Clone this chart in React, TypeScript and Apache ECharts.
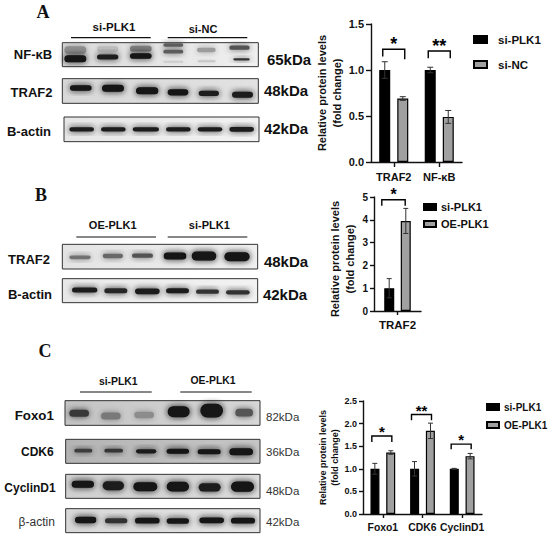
import React, { useEffect, useRef } from "react";
import * as echarts from "echarts";

// ---- chart data ----
const aCategories = ["TRAF2", "NF-κB"];
const aSiPlk1 = [1.0, 1.0];
const aSiPlk1Err = [0.09, 0.03];
const aSiNc = [0.69, 0.49];
const aSiNcErr = [0.02, 0.07];
const aTicks = { min: 0, max: 1.5, interval: 0.5 };

const bCategories = ["TRAF2"];
const bSiPlk1 = [1.0];
const bSiPlk1Err = [0.42];
const bOePlk1 = [3.95];
const bOePlk1Err = [0.55];
const bTicks = { min: 0, max: 5, interval: 1 };

const cCategories = ["Foxo1", "CDK6", "CyclinD1"];
const cSiPlk1 = [1.0, 1.0, 1.0];
const cSiPlk1Err = [0.12, 0.16, 0.01];
const cOePlk1 = [1.36, 1.84, 1.28];
const cOePlk1Err = [0.04, 0.17, 0.06];
const cTicks = { min: 0, max: 2.5, interval: 0.5 };

// significance brackets: [category, top, left foot, right foot, stars]
const aBrackets = [[0, 1.226, 1.146, 1.117, 1], [1, 1.207, 1.127, 1.127, 2]];
const bBrackets = [[0, 4.88, 4.62, 4.62, 1]];
const cBrackets = [[0, 1.727, 1.595, 1.595, 1], [1, 2.2, 2.074, 2.074, 2], [2, 1.545, 1.43, 1.43, 1]];

const yName = "Relative protein levels\n(fold change)";
const FONT = '"Liberation Sans", Arial, sans-serif';
const SERIF = '"Liberation Serif", "Times New Roman", serif';
const INK = "#111";
const GREY = "#a0a0a0";

// ---- western blot pictures (drawn, zoomed-crop units /3) ----
type Band = [number, number, number, number, number];
type Panel = { x1: number; x2: number; y1: number; y2: number; oy: number; base: number; bg: [string, string]; bands: Band[] };

const panels: Panel[] = [
  { x1: 187, x2: 775, y1: 128, y2: 200, oy: 0, base: 230, bg: ["#dcdcdc", "#f0f0f0"], bands: [
    [190, 262, 150, 26, 0.42], [288, 358, 147, 20, 0.2], [387, 458, 146, 20, 0.5], [487, 553, 135, 14, 0.65],
    [487, 553, 155, 14, 0.65], [487, 553, 185, 8, 0.12], [588, 650, 150, 16, 0.35], [590, 650, 184, 8, 0.15],
    [685, 752, 143, 16, 0.7], [697, 752, 178, 10, 0.85], [190, 262, 176, 24, 1], [288, 358, 171, 18, 0.95],
    [387, 458, 168, 20, 1] ] },
  { x1: 187, x2: 775, y1: 236, y2: 310, oy: 0, base: 220, bg: ["#d8d8d8", "#e2e2e2"], bands: [
    [207, 278, 264, 19, 1], [303, 375, 265, 24, 1], [405, 478, 272, 24, 1],
    [500, 568, 277, 22, 1], [593, 660, 280, 19, 0.95], [693, 762, 284, 21, 0.95] ] },
  { x1: 192, x2: 777, y1: 351, y2: 425, oy: 0, base: 235, bg: ["#e6e6e6", "#f2f2f2"], bands: [
    [205, 285, 388, 16, 0.95], [300, 380, 388, 16, 0.95], [395, 480, 388, 16, 0.95],
    [495, 575, 388, 16, 0.95], [590, 670, 388, 16, 0.95], [685, 765, 388, 17, 0.95] ] },
  { x1: 187, x2: 773, y1: 223, y2: 297, oy: 170, base: 232, bg: ["#e4e4e4", "#efefef"], bands: [
    [205, 275, 262, 14, 0.55], [305, 372, 258, 16, 0.6], [393, 462, 257, 16, 0.7],
    [488, 562, 258, 24, 1], [572, 652, 258, 30, 1], [670, 752, 260, 30, 1] ] },
  { x1: 187, x2: 773, y1: 326, y2: 398, oy: 170, base: 236, bg: ["#e8e8e8", "#f2f2f2"], bands: [
    [213, 295, 360, 18, 0.95], [310, 385, 362, 18, 0.9], [402, 482, 364, 20, 0.95],
    [495, 570, 362, 18, 0.95], [585, 660, 365, 16, 0.85], [675, 752, 367, 16, 0.85] ] },
  { x1: 195, x2: 780, y1: 182, y2: 256, oy: 340, base: 206, bg: ["#c4c4c4", "#d8d8d8"], bands: [
    [205, 270, 220, 24, 0.8], [300, 365, 228, 24, 0.45], [400, 465, 225, 22, 0.35],
    [500, 572, 215, 36, 1], [598, 672, 212, 44, 1], [703, 762, 218, 26, 0.65] ] },
  { x1: 197, x2: 780, y1: 298, y2: 370, oy: 340, base: 190, bg: ["#b4b4b4", "#c6c6c6"], bands: [
    [220, 280, 332, 14, 0.75], [310, 372, 332, 14, 0.8], [405, 472, 334, 16, 0.95],
    [497, 570, 334, 18, 1], [590, 665, 335, 18, 1], [685, 762, 335, 24, 1] ] },
  { x1: 197, x2: 780, y1: 403, y2: 475, oy: 340, base: 214, bg: ["#d0d0d0", "#dcdcdc"], bands: [
    [212, 285, 433, 24, 1], [305, 375, 437, 30, 0.95], [397, 475, 440, 30, 1],
    [497, 570, 440, 32, 1], [593, 665, 442, 28, 0.95], [690, 765, 440, 34, 1] ] },
  { x1: 197, x2: 780, y1: 506, y2: 578, oy: 340, base: 222, bg: ["#d8d8d8", "#e4e4e4"], bands: [
    [222, 292, 540, 22, 1], [312, 385, 542, 18, 0.85], [402, 482, 542, 20, 0.98],
    [497, 570, 543, 20, 0.98], [595, 675, 541, 20, 1], [690, 768, 542, 20, 1] ] },
];

const texts: [string, number, number, string][] = [
  ["A", 43, 12, `bold 18px ${SERIF}`], ["B", 41, 195, `bold 18px ${SERIF}`], ["C", 45, 351, `bold 18px ${SERIF}`],
  ["si-PLK1", 114, 27, `bold 11.5px ${FONT}`], ["si-NC", 203, 29, `bold 11px ${FONT}`],
  ["NF-κB", 33, 54, `bold 13px ${FONT}`], ["TRAF2", 31.5, 92, `bold 13px ${FONT}`], ["B-actin", 29, 131, `bold 13px ${FONT}`],
  ["65kDa", 289, 59, `bold 15px ${FONT}`], ["48kDa", 286, 90, `bold 15px ${FONT}`], ["42kDa", 286, 128.5, `bold 15px ${FONT}`],
  ["OE-PLK1", 112.7, 224.5, `bold 11px ${FONT}`], ["si-PLK1", 209.3, 224.5, `bold 11px ${FONT}`],
  ["TRAF2", 29, 259, `bold 13px ${FONT}`], ["B-actin", 30, 294, `bold 13px ${FONT}`],
  ["48kDa", 286, 261.7, `bold 15px ${FONT}`], ["42kDa", 285, 294, `bold 15px ${FONT}`],
  ["si-PLK1", 118.3, 381.7, `bold 10.4px ${FONT}`], ["OE-PLK1", 213, 380, `bold 10.4px ${FONT}`],
  ["Foxo1", 34.3, 415.3, `bold 13.3px ${FONT}`], ["CDK6", 37.3, 451.7, `bold 12px ${FONT}`],
  ["CyclinD1", 30, 487.7, `bold 12px ${FONT}`],
];
const softTexts: [string, number, number, string][] = [
  ["β-actin", 36.7, 522.3, `12px ${FONT}`], ["82kDa", 282.7, 417.3, `11.5px ${FONT}`], ["36kDa", 282.7, 451.7, `11.5px ${FONT}`],
  ["48kDa", 282.7, 491, `11.5px ${FONT}`], ["42kDa", 282.7, 521.7, `11.5px ${FONT}`],
];
const groupLines: [number, number, number][] = [
  [71, 150.7, 37.7], [167.7, 247.3, 37.7], [76.3, 156, 237], [167.7, 247.3, 237], [80, 151.7, 392], [180.3, 251.7, 392],
];

function buildGraphic() {
  const els: any[] = [];
  const blur = 6;
  for (const p of panels) {
    els.push({
      type: "rect", silent: true,
      shape: { x: p.x1 / 3, y: p.oy + p.y1 / 3, width: (p.x2 - p.x1) / 3, height: (p.y2 - p.y1) / 3 },
      style: {
        fill: new echarts.graphic.LinearGradient(0, 0, 1, 0, [{ offset: 0, color: p.bg[0] }, { offset: 1, color: p.bg[1] }]),
        stroke: "#333", lineWidth: 1,
      },
    });
    for (const [a, b, zy, th, d] of p.bands) {
      const g = Math.round(p.base + (18 - p.base) * d);
      const color = `rgb(${g},${g},${g})`;
      const h = Math.max(2, th / 3 - 1);
      const w = (b - a) / 3 - 2;
      els.push({
        type: "rect", silent: true,
        shape: { x: a / 3 + 1, y: p.oy + zy / 3 - h / 2, width: w, height: h, r: h / 2 },
        style: { fill: color, shadowBlur: blur, shadowColor: color },
      });
    }
  }
  for (const [x1, x2, y] of groupLines) {
    els.push({ type: "line", silent: true, shape: { x1, y1: y, x2, y2: y }, style: { stroke: "#111", lineWidth: 1.2 } });
  }
  for (const [text, x, y, font] of texts) {
    els.push({ type: "text", silent: true, x, y, style: { text, font, fill: INK, align: "center", verticalAlign: "middle" } });
  }
  for (const [text, x, y, font] of softTexts) {
    els.push({ type: "text", silent: true, x, y, style: { text, font, fill: "#333", align: "center", verticalAlign: "middle" } });
  }
  return els;
}

function errorSeries(idx: number, values: number[], errs: number[], dx: number, cap: number) {
  return {
    type: "custom", xAxisIndex: idx, yAxisIndex: idx, silent: true, z: 5, clip: false,
    encode: { x: 0, y: 1 },
    data: values.map((v, i) => [i, v - errs[i], v + errs[i]]),
    renderItem: (_: any, api: any) => {
      const lo = api.coord([api.value(0), api.value(1)]);
      const hi = api.coord([api.value(0), api.value(2)]);
      const x = lo[0] + dx;
      const style = { stroke: "#333", lineWidth: 1, fill: "none" };
      return {
        type: "group",
        children: [
          { type: "line", shape: { x1: x, y1: lo[1], x2: x, y2: hi[1] }, style },
          { type: "line", shape: { x1: x - cap, y1: hi[1], x2: x + cap, y2: hi[1] }, style },
          { type: "line", shape: { x1: x - cap, y1: lo[1], x2: x + cap, y2: lo[1] }, style },
        ],
      };
    },
  };
}

function bracketSeries(idx: number, rows: number[][], half: number, dx: number, starPx: number) {
  return {
    type: "custom", xAxisIndex: idx, yAxisIndex: idx, silent: true, z: 6, clip: false,
    encode: { x: 0, y: 1 },
    data: rows,
    renderItem: (_: any, api: any) => {
      const top = api.coord([api.value(0), api.value(1)]);
      const lf = api.coord([api.value(0), api.value(2)]);
      const rf = api.coord([api.value(0), api.value(3)]);
      const n = api.value(4);
      const cx = top[0] + dx;
      return {
        type: "group",
        children: [
          {
            type: "polyline",
            shape: { points: [[cx - half, lf[1]], [cx - half, top[1]], [cx + half, top[1]], [cx + half, rf[1]]] },
            style: { stroke: "#000", lineWidth: 1.4, fill: "none" },
          },
          {
            type: "text", x: cx, y: top[1] - starPx * 0.3,
            style: { text: "*".repeat(n), font: `bold ${starPx}px ${FONT}`, fill: "#000", align: "center", verticalAlign: "middle" },
          },
        ],
      };
    },
  };
}

function barSeries(idx: number, name: string, values: number[], color: string, width: number, gap: string) {
  return {
    type: "bar", name, xAxisIndex: idx, yAxisIndex: idx, data: values, barWidth: width, barGap: gap,
    itemStyle: { color, borderColor: "#000", borderWidth: 1.2 },
  };
}

function axes(idx: number, cats: string[], ticks: any, o: { tick: number; fs: number; cat: number; mg: number; digits: number; nfs: number; gap: number; lh: number; pad: number[] }) {
  const line = { show: true, lineStyle: { color: INK, width: 1.4 } };
  return {
    x: {
      type: "category", gridIndex: idx, data: cats, axisLine: line,
      axisTick: { show: true, alignWithLabel: true, length: o.tick, lineStyle: { color: INK, width: 1.4 } },
      axisLabel: { color: INK, fontFamily: FONT, fontWeight: "bold", fontSize: o.cat, margin: o.mg, interval: 0 },
    },
    y: {
      type: "value", gridIndex: idx, min: ticks.min, max: ticks.max, interval: ticks.interval,
      name: yName, nameLocation: "middle", nameRotate: 90, nameGap: o.gap,
      nameTextStyle: { color: INK, fontFamily: FONT, fontWeight: "bold", fontSize: o.nfs, lineHeight: o.lh, padding: o.pad },
      axisLine: line, splitLine: { show: false },
      axisTick: { show: true, length: o.tick, lineStyle: { color: INK, width: 1.4 } },
      axisLabel: {
        color: INK, fontFamily: FONT, fontWeight: "bold", fontSize: o.fs, margin: o.tick + 2,
        formatter: (v: number) => v.toFixed(o.digits),
      },
    },
  };
}

export default function App() {
  const ref = useRef<HTMLDivElement>(null);
  useEffect(() => {
    const chart = echarts.init(ref.current!, undefined, { renderer: "svg" });
    const A = axes(0, aCategories, aTicks, { tick: 5, fs: 11, cat: 11, mg: 9, digits: 1, nfs: 11, gap: 26, lh: 15, pad: [0, 0, 0, 0] });
    const B = axes(1, bCategories, bTicks, { tick: 4, fs: 10, cat: 11.5, mg: 8, digits: 0, nfs: 11, gap: 17, lh: 15, pad: [0, 10, 0, 0] });
    const C = axes(2, cCategories, cTicks, { tick: 4, fs: 9, cat: 10.4, mg: 8, digits: 1, nfs: 9, gap: 22, lh: 12, pad: [0, 0, 0, 0] });
    const legend = (left: number, top: number, names: string[], fs: number, gap: number, w: number, h: number, textPad: number) => ({
      orient: "vertical", left, top, padding: 0, data: names.map((name) => ({ name, icon: "rect" })),
      itemWidth: w, itemHeight: h, itemGap: gap, align: "left",
      selectedMode: false,
      textStyle: { color: INK, fontFamily: FONT, fontWeight: "bold", fontSize: fs, padding: [0, 0, 0, textPad] },
    });
    chart.setOption({
      animation: false,
      backgroundColor: "#fff",
      grid: [
        { left: 371, top: 24, width: 91, height: 138 },
        { left: 374, top: 197, width: 47, height: 114 },
        { left: 363, top: 401, width: 119, height: 113 },
      ],
      xAxis: [A.x, B.x, C.x],
      yAxis: [A.y, B.y, C.y],
      legend: [
        legend(473, 33.5, ["si-PLK1", "si-NC"], 11.5, 13, 13, 7, 6),
        legend(423, 201.5, ["si-PLK1", "OE-PLK1"], 11, 6, 12, 6, 0),
        legend(486, 402, ["si-PLK1", "OE-PLK1"], 10, 8, 12, 6, 0),
      ],
      series: [
        barSeries(0, "si-PLK1", aSiPlk1, "#000", 11, "64%"),
        barSeries(0, "si-NC", aSiNc, GREY, 11, "64%"),
        errorSeries(0, aSiPlk1, aSiPlk1Err, -9, 3),
        errorSeries(0, aSiNc, aSiNcErr, 9, 3),
        bracketSeries(0, aBrackets, 11, 0, 18),
        barSeries(1, "si-PLK1", bSiPlk1, "#000", 10, "65%"),
        barSeries(1, "OE-PLK1", bOePlk1, GREY, 10, "65%"),
        errorSeries(1, bSiPlk1, bSiPlk1Err, -8.3, 2.5),
        errorSeries(1, bOePlk1, bOePlk1Err, 8.3, 2.5),
        bracketSeries(1, bBrackets, 11.7, -4, 16),
        barSeries(2, "si-PLK1", cSiPlk1, "#000", 9, "75%"),
        barSeries(2, "OE-PLK1", cOePlk1, GREY, 9, "75%"),
        errorSeries(2, cSiPlk1, cSiPlk1Err, -8, 2.5),
        errorSeries(2, cOePlk1, cOePlk1Err, 8, 2.5),
        bracketSeries(2, cBrackets, 10, -1, 15),
      ],
      graphic: { elements: buildGraphic() },
    });
    return () => chart.dispose();
  }, []);
  return <div ref={ref} style={{ position: "absolute", left: 0, top: 0, width: 550, height: 539 }} />;
}
